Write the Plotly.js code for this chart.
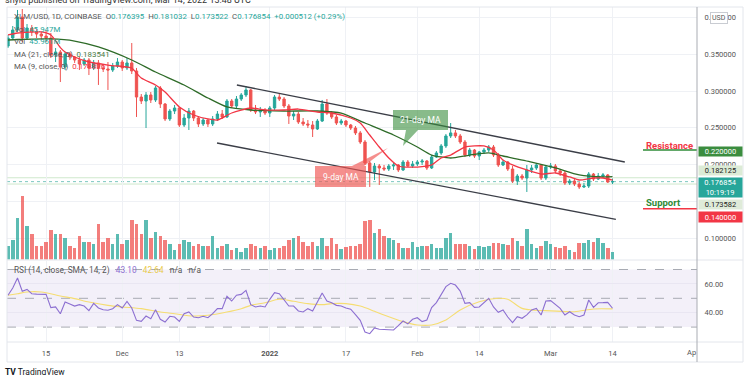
<!DOCTYPE html>
<html><head><meta charset="utf-8">
<script src="https://cdn.plot.ly/plotly-3.0.1.min.js"></script>
<style>html,body{margin:0;padding:0;background:#fff;}#chart{width:750px;height:375px;}</style>
</head><body><div id="chart"></div>
<script>
// ---------------- DATA ----------------
const startDate = '2021-11-07';
const opens = [0.3611,0.3720,0.3829,0.4005,0.3720,0.3856,0.3802,0.3774,0.3747,0.3720,
 0.3489,0.3530,0.3326,0.3503,0.3462,0.3421,0.3367,0.3421,0.3313,0.3381,
 0.3313,0.3299,0.3285,0.3340,0.3394,0.3313,0.3381,0.3272,0.2918,0.2864,
 0.2946,0.2878,0.3041,0.2823,0.2620,0.2728,0.2769,0.2538,0.2633,0.2728,
 0.2633,0.2552,0.2606,0.2552,0.2620,0.2687,0.2647,0.2864,0.2796,0.2891,
 0.2946,0.3014,0.2742,0.2715,0.2742,0.2701,0.2769,0.2918,0.2891,0.2796,
 0.2660,0.2687,0.2579,0.2552,0.2538,0.2484,0.2592,0.2823,0.2701,0.2647,
 0.2565,0.2592,0.2538,0.2497,0.2430,0.2307,0.2022,0.1899,0.1981,0.1954,
 0.1940,0.1981,0.1995,0.1927,0.2035,0.1981,0.2008,0.2035,0.2049,0.1954,
 0.2103,0.2158,0.2253,0.2389,0.2430,0.2389,0.2307,0.2131,0.2198,0.2117,
 0.2171,0.2198,0.2239,0.2131,0.1995,0.2035,0.1940,0.1777,0.1845,0.1818,
 0.1927,0.1954,0.1995,0.1818,0.1968,0.1981,0.1913,0.1886,0.1750,0.1777,
 0.1736,0.1696,0.1709,0.1872,0.1804,0.1845,0.1859,0.176395];
const highs = [0.3761,0.3883,0.4101,0.4114,0.3910,0.3897,0.3842,0.3815,0.3829,0.3788,
 0.3584,0.3557,0.3530,0.3530,0.3476,0.3462,0.3448,0.3448,0.3421,0.3421,
 0.3367,0.3394,0.3381,0.3448,0.3421,0.3448,0.3652,0.3313,0.2959,0.2986,
 0.2986,0.3068,0.3068,0.2837,0.2755,0.2810,0.2783,0.2687,0.2769,0.2742,
 0.2660,0.2633,0.2620,0.2660,0.2728,0.2742,0.2891,0.2891,0.2932,0.2973,
 0.3068,0.3027,0.2810,0.2783,0.2769,0.2796,0.2946,0.2973,0.2918,0.2823,
 0.2728,0.2715,0.2633,0.2606,0.2592,0.2620,0.2878,0.2891,0.2728,0.2674,
 0.2620,0.2606,0.2552,0.2524,0.2457,0.2334,0.2049,0.2022,0.2008,0.1995,
 0.2008,0.2035,0.2008,0.2062,0.2062,0.2049,0.2062,0.2076,0.2062,0.2131,
 0.2185,0.2280,0.2416,0.2565,0.2470,0.2416,0.2334,0.2226,0.2212,0.2185,
 0.2226,0.2266,0.2266,0.2158,0.2062,0.2049,0.1981,0.1872,0.1872,0.1995,
 0.1995,0.2022,0.2008,0.1995,0.2022,0.2008,0.1940,0.1913,0.1804,0.1804,
 0.1764,0.1750,0.1899,0.1886,0.1886,0.1886,0.1872,0.181032];
const lows = [0.3584,0.3693,0.3802,0.3666,0.3693,0.3747,0.3720,0.3693,0.3666,0.3448,
 0.3394,0.3122,0.3285,0.3421,0.3381,0.3285,0.3340,0.3217,0.3285,0.3082,
 0.3258,0.3014,0.3258,0.3313,0.3272,0.3285,0.3231,0.2647,0.2823,0.2497,
 0.2837,0.2851,0.2769,0.2592,0.2592,0.2687,0.2511,0.2511,0.2470,0.2592,
 0.2511,0.2524,0.2511,0.2524,0.2592,0.2620,0.2633,0.2769,0.2769,0.2864,
 0.2918,0.2715,0.2687,0.2647,0.2674,0.2647,0.2742,0.2864,0.2769,0.2552,
 0.2606,0.2552,0.2524,0.2497,0.2375,0.2470,0.2579,0.2674,0.2620,0.2538,
 0.2538,0.2511,0.2470,0.2402,0.2280,0.1995,0.1696,0.1791,0.1723,0.1913,
 0.1913,0.1927,0.1899,0.1913,0.1968,0.1954,0.1981,0.1995,0.1927,0.1940,
 0.2090,0.2131,0.2226,0.2361,0.2361,0.2280,0.2103,0.2103,0.2090,0.2062,
 0.2144,0.2171,0.2103,0.1968,0.1981,0.1913,0.1750,0.1723,0.1791,0.1628,
 0.1886,0.1927,0.1791,0.1791,0.1940,0.1886,0.1845,0.1723,0.1723,0.1709,
 0.1668,0.1682,0.1682,0.1777,0.1791,0.1818,0.1750,0.173522];
const closes = [0.3720,0.3829,0.4005,0.3720,0.3856,0.3802,0.3774,0.3747,0.3720,0.3489,
 0.3530,0.3326,0.3503,0.3462,0.3421,0.3367,0.3421,0.3313,0.3381,0.3313,
 0.3299,0.3285,0.3340,0.3394,0.3313,0.3381,0.3272,0.2918,0.2864,0.2946,
 0.2878,0.3041,0.2823,0.2620,0.2728,0.2769,0.2538,0.2633,0.2728,0.2633,
 0.2552,0.2606,0.2552,0.2620,0.2687,0.2647,0.2864,0.2796,0.2891,0.2946,
 0.3014,0.2742,0.2715,0.2742,0.2701,0.2769,0.2918,0.2891,0.2796,0.2660,
 0.2687,0.2579,0.2552,0.2538,0.2484,0.2592,0.2823,0.2701,0.2647,0.2565,
 0.2592,0.2538,0.2497,0.2430,0.2307,0.2022,0.1899,0.1981,0.1954,0.1940,
 0.1981,0.1995,0.1927,0.2035,0.1981,0.2008,0.2035,0.2049,0.1954,0.2103,
 0.2158,0.2253,0.2389,0.2430,0.2389,0.2307,0.2131,0.2198,0.2117,0.2171,
 0.2198,0.2239,0.2131,0.1995,0.2035,0.1940,0.1777,0.1845,0.1818,0.1927,
 0.1954,0.1995,0.1818,0.1968,0.1981,0.1913,0.1886,0.1750,0.1777,0.1736,
 0.1696,0.1709,0.1872,0.1804,0.1845,0.1859,0.176342,0.176854];
const volumesM = [85,130,267,410,215,169,91,85,117,195,163,169,137,85,72,150,117,117,104,228,
 117,137,98,163,104,124,254,234,169,254,137,182,150,124,98,65,104,130,117,85,
 98,85,91,150,78,85,104,65,78,52,72,104,85,78,91,65,72,78,85,130,
 137,150,111,85,117,91,137,85,143,104,70,80,91,85,102,249,260,174,200,156,
 141,128,106,73,73,117,80,86,91,99,73,76,141,171,102,102,99,89,70,85,
 80,86,110,106,102,96,141,119,86,200,98,72,89,119,102,80,73,91,59,50,
 110,106,124,117,137,106,73,46];
const rsi = [52.1,57.2,64.1,54.9,56.2,53.2,52.9,52.8,52.7,43.5,
 44.0,39.3,47.4,46.0,44.6,45.6,44.6,41.5,46.5,43.3,
 42.0,41.7,42.8,45.6,43.3,47.9,43.3,34.7,34.0,37.7,
 35.8,42.1,35.4,33.5,37.5,37.0,34.0,39.3,40.5,37.0,
 36.5,37.5,36.5,39.3,42.8,42.8,51.4,48.1,52.1,52.7,
 55.5,45.6,44.0,44.6,44.0,49.3,53.9,53.2,49.3,44.6,
 44.6,41.2,40.5,42.8,41.2,47.4,53.7,48.1,46.9,45.1,
 44.6,43.3,42.4,38.6,34.7,26.6,25.4,29.4,28.5,28.3,
 28.0,28.0,31.0,34.2,32.2,35.4,36.5,33.8,34.9,43.5,
 47.0,53.0,58.1,60.4,59.2,55.0,46.5,47.0,43.7,44.0,
 47.0,50.0,44.0,40.3,41.9,37.0,33.1,37.2,36.1,38.5,
 41.9,43.0,38.4,48.1,48.4,45.8,43.0,38.4,40.7,38.4,
 37.2,38.4,48.8,43.7,46.9,47.0,47.2,43.1];
const rsiMaDates = ['2021-11-07','2021-11-09','2021-11-11','2021-11-14','2021-11-18','2021-11-21','2021-11-24','2021-11-28','2021-12-01','2021-12-05','2021-12-09','2021-12-12','2021-12-16','2021-12-19','2021-12-23','2021-12-26','2021-12-28','2021-12-31','2022-01-03','2022-01-06','2022-01-09','2022-01-12','2022-01-14','2022-01-17','2022-01-20','2022-01-23','2022-01-25','2022-01-29','2022-02-01','2022-02-04','2022-02-07','2022-02-10','2022-02-14','2022-02-18','2022-02-20','2022-02-23','2022-02-25','2022-03-01','2022-03-06','2022-03-10','2022-03-14'];
const rsiMaValues = [52.1,53.2,54.4,54.4,51.6,49.8,47.4,45.1,44.0,42.8,40.5,39.3,37.7,38.2,40.5,42.8,45.1,46.9,49.3,47.9,46.3,45.6,46.3,46.3,44.6,41.0,38.4,33.8,31.5,31.5,34.9,41.9,47.6,50.0,49.3,43.0,41.9,41.3,40.7,42.6,42.64];
const ma21Dates = ['2021-11-07','2021-11-09','2021-11-16','2021-11-21','2021-11-26','2021-12-03','2021-12-08','2021-12-14','2021-12-19','2021-12-23','2021-12-28','2022-01-04','2022-01-11','2022-01-16','2022-01-21','2022-01-27','2022-02-01','2022-02-04','2022-02-08','2022-02-12','2022-02-16','2022-02-19','2022-02-25','2022-03-02','2022-03-07','2022-03-12','2022-03-14'];
const ma21Values = [0.3693,0.3700,0.3707,0.3679,0.3598,0.3421,0.3258,0.3082,0.2905,0.2783,0.2742,0.2728,0.2728,0.2701,0.2565,0.2402,0.2239,0.2130,0.2090,0.2130,0.2158,0.2117,0.2035,0.1954,0.1859,0.1832,0.183541];
const ma9Dates = ['2021-11-07','2021-11-09','2021-11-14','2021-11-16','2021-11-18','2021-11-19','2021-11-21','2021-11-24','2021-11-28','2021-12-02','2021-12-03','2021-12-05','2021-12-08','2021-12-10','2021-12-13','2021-12-16','2021-12-19','2021-12-21','2021-12-24','2021-12-28','2021-12-31','2022-01-04','2022-01-07','2022-01-11','2022-01-14','2022-01-18','2022-01-20','2022-01-22','2022-01-24','2022-01-26','2022-01-28','2022-02-01','2022-02-04','2022-02-06','2022-02-08','2022-02-11','2022-02-15','2022-02-17','2022-02-19','2022-02-21','2022-02-24','2022-02-27','2022-03-02','2022-03-05','2022-03-07','2022-03-10','2022-03-12','2022-03-14'];
const ma9Values = [0.3761,0.3788,0.3802,0.3761,0.3590,0.3530,0.3462,0.3394,0.3353,0.3326,0.3312,0.3177,0.3082,0.2986,0.2783,0.2674,0.2620,0.2606,0.2701,0.2769,0.2742,0.2742,0.2755,0.2715,0.2701,0.2633,0.2565,0.2402,0.2239,0.2090,0.1981,0.1967,0.1995,0.2090,0.2130,0.2239,0.2253,0.2198,0.2062,0.1995,0.1927,0.1872,0.1886,0.1832,0.1791,0.1818,0.1818,0.1788];
const trendUpperDates = ['2021-12-25 02:00','2022-03-16 14:00'];
const trendUpperPrices = [0.3082,0.2035];
const trendLowerDates = ['2021-12-20 22:00','2022-03-14 17:00'];
const trendLowerPrices = [0.2293,0.1255];
const resistanceLevel = 0.22, supportLevel = 0.14;
const lastClose = 0.176854, markA = 0.182125, markB = 0.173582;
const tickDates = ['2021-11-15','2021-12-01','2021-12-13','2022-01-01','2022-01-17','2022-02-01','2022-02-14','2022-03-01','2022-03-14'];
const tickTexts = ['15','Dec','13','<b>2022</b>','17','Feb','14','Mar','14'];
const priceTicks = [0.10,0.15,0.20,0.25,0.30,0.35,0.40];
const priceTickTexts = ['0.100000','','0.200000','0.250000','0.300000','0.350000','0.400000'];

// ---------------- BUILD ----------------
const dates = [];
for (let i = 0; i < closes.length; i++) {
  const d = new Date(Date.UTC(2021, 10, 7 + i));
  dates.push(d.toISOString().slice(0, 10));
}
const UP = '#26a69a', DN = '#ef5350';
const volColors = closes.map((c, i) => c >= opens[i] ? 'rgba(38,166,154,0.75)' : 'rgba(239,83,80,0.75)');

const W = 750, H = 375, ML = 7, MR = 53, MT = 7, MB = 33;
const PW = W - ML - MR, PH = H - MT - MB;
const px = x => (x - ML) / PW;
const py = y => (H - MB - y) / PH;
const FONT = 'Roboto, "Liberation Sans", Arial, sans-serif';

const traces = [
  {type:'bar', x:dates, y:volumesM, xaxis:'x', yaxis:'y', marker:{color:volColors, line:{width:0}}, width:0.74*86400000, hoverinfo:'skip'},
  {type:'scatter', mode:'lines', x:trendUpperDates, y:trendUpperPrices, xaxis:'x', yaxis:'y2', line:{color:'#3b3e47', width:1.4}, hoverinfo:'skip'},
  {type:'scatter', mode:'lines', x:trendLowerDates, y:trendLowerPrices, xaxis:'x', yaxis:'y2', line:{color:'#3b3e47', width:1.4}, hoverinfo:'skip'},
  {type:'scatter', mode:'lines', x:ma21Dates, y:ma21Values, xaxis:'x', yaxis:'y2', line:{color:'#2e6b28', width:1.3, shape:'spline', smoothing:0.6}, hoverinfo:'skip'},
  {type:'candlestick', x:dates, open:opens, high:highs, low:lows, close:closes, xaxis:'x', yaxis:'y2',
   increasing:{line:{color:UP, width:1}, fillcolor:UP}, decreasing:{line:{color:DN, width:1}, fillcolor:DN},
   whiskerwidth:0, hoverinfo:'skip'},
  {type:'scatter', mode:'lines', x:ma9Dates, y:ma9Values, xaxis:'x', yaxis:'y2', line:{color:'#f23645', width:1.3, shape:'spline', smoothing:0.6}, hoverinfo:'skip'},
  {type:'scatter', mode:'lines', x:rsiMaDates, y:rsiMaValues, xaxis:'x', yaxis:'y3', line:{color:'#f5dd72', width:1.1, shape:'spline', smoothing:0.8}, hoverinfo:'skip'},
  {type:'scatter', mode:'lines', x:dates, y:rsi, xaxis:'x', yaxis:'y3', line:{color:'#8c6fd1', width:1.1}, hoverinfo:'skip'}
];

function txt(x, y, text, size, color, extra) {
  return Object.assign({xref:'paper', yref:'paper', x:px(x), y:py(y), text:text, showarrow:false,
    xanchor:'left', yanchor:'middle', font:{family:FONT, size:size, color:color}}, extra || {});
}
function hline(x0, x1, y, color, w, dash) {
  return {type:'line', xref:'paper', yref:'paper', x0:px(x0), x1:px(x1), y0:py(y), y1:py(y), line:{color:color, width:w, dash:dash||'solid'}};
}
function vline(x, y0, y1, color, w) {
  return {type:'line', xref:'paper', yref:'paper', x0:px(x), x1:px(x), y0:py(y0), y1:py(y1), line:{color:color, width:w}};
}
function pathOf(pts) {
  return pts.map((p, i) => (i ? 'L ' : 'M ') + px(p[0]).toFixed(5) + ' ' + py(p[1]).toFixed(5)).join(' ') + ' Z';
}

const annotations = [
  txt(3, 0.5, 'shyid published on TradingView.com, Mar 14, 2022 13:48 UTC', 9, '#333'),
  txt(12, 17, 'XLM/USD, 1D, COINBASE  O<span style="color:#26a69a">0.176395</span>  H<span style="color:#26a69a">0.181032</span>  L<span style="color:#26a69a">0.173522</span>  C<span style="color:#26a69a">0.176854  +0.000512 (+0.29%)</span>', 7.9, '#555'),
  txt(12, 29.5, 'Vol  <span style="color:#26a69a">45.947M</span>', 7.9, '#555'),
  txt(12, 42, 'Vol  <span style="color:#26a69a">45.961M</span>', 7.9, '#555'),
  txt(12, 54, 'MA (21, close, 0)  <span style="color:#4b7a44">0.183541</span>', 7.9, '#555'),
  txt(12, 66, 'MA (9, close, 0)  <span style="color:#f23645">0.178826</span>', 7.9, '#555'),
  txt(12, 270.5, 'RSI (14, close, SMA, 14, 2)   <span style="color:#8c6fd1">43.10</span>   <span style="color:#e8c94a">42.64</span>   n/a   n/a', 8.3, '#555'),
  txt(420.5, 120, '21-day MA', 8.5, '#fff', {xanchor:'center'}),
  txt(340.5, 176.5, '9-day MA', 8.5, '#fff', {xanchor:'center'}),
  txt(644, 145, '<b>Resistance</b>', 9.5, '#f23645'),
  txt(644, 202, '<b>Support</b>', 9.5, '#2e8b37'),
  txt(698, 151, '0.220000', 7.5, '#fff', {bgcolor:'#3b8d3f', width:43, height:9, borderpad:0, align:'center'}),
  txt(698, 171, '0.182125', 7.5, '#222', {bgcolor:'#dcebd6', width:43, height:9, borderpad:0, align:'center'}),
  txt(698, 187, '0.176854<br>10:19:19', 7.5, '#fff', {bgcolor:'#26a69a', width:43, height:19, borderpad:0, align:'center'}),
  txt(698, 204, '0.173582', 7.5, '#222', {bgcolor:'#dfebd9', width:43, height:9, borderpad:0, align:'center'}),
  txt(698, 217, '0.140000', 7.5, '#fff', {bgcolor:'#f23645', width:43, height:10, borderpad:0, align:'center'}),
  txt(710, 17.5, 'USD', 7, '#555', {bgcolor:'#fff', bordercolor:'#c9ccd2', borderwidth:1, borderpad:1}),
  txt(698, 352, 'Ap', 7.5, '#555', {xanchor:'right'}),
  txt(3, 371.5, '<b>TV</b> TradingView', 8.5, '#131722')
];

const shapes = [
  {type:'rect', xref:'paper', yref:'y3', x0:0, x1:1, y0:30, y1:70, fillcolor:'rgba(126,87,194,0.09)', line:{width:0}, layer:'below'},
  {type:'line', xref:'paper', yref:'y3', x0:0, x1:1, y0:70, y1:70, line:{color:'#a8abb3', width:1, dash:'dash'}, layer:'below'},
  {type:'line', xref:'paper', yref:'y3', x0:0, x1:1, y0:50, y1:50, line:{color:'#a8abb3', width:1, dash:'dash'}, layer:'below'},
  {type:'line', xref:'paper', yref:'y3', x0:0, x1:1, y0:30, y1:30, line:{color:'#a8abb3', width:1, dash:'dash'}, layer:'below'},
  {type:'line', xref:'paper', yref:'y2', x0:0, x1:1, y0:markA, y1:markA, line:{color:'#cfe8cc', width:1}, layer:'below'},
  {type:'line', xref:'paper', yref:'y2', x0:0, x1:1, y0:markB, y1:markB, line:{color:'#cfe8cc', width:1}, layer:'below'},
  {type:'line', xref:'paper', yref:'y2', x0:0, x1:1, y0:lastClose, y1:lastClose, line:{color:'#7cc7bf', width:1, dash:'dot'}, layer:'below'},
  {type:'line', xref:'paper', yref:'y2', x0:px(643), x1:1, y0:resistanceLevel, y1:resistanceLevel, line:{color:'#2e8b37', width:1.5}},
  {type:'line', xref:'paper', yref:'y2', x0:px(643), x1:1, y0:supportLevel, y1:supportLevel, line:{color:'#f23645', width:1.5}},
  {type:'path', xref:'paper', yref:'paper', path:pathOf([[393,110],[448,110],[448,130],[418,130],[403,146],[406,130],[393,130]]), fillcolor:'rgba(56,142,60,0.6)', line:{width:0}},
  {type:'path', xref:'paper', yref:'paper', path:pathOf([[315,166],[352,166],[388,148],[364,166],[366,166],[366,187],[315,187]]), fillcolor:'rgba(239,83,80,0.65)', line:{width:0}},
  hline(7, 743, 7, '#e3e6ec', 1),
  hline(7, 743, 260, '#e3e6ec', 1),
  hline(7, 743, 342, '#e3e6ec', 1),
  hline(7, 743, 362, '#e3e6ec', 1),
  vline(7, 7, 362, '#e3e6ec', 1),
  vline(743, 7, 362, '#e3e6ec', 1),
  vline(697, 7, 362, '#a9acb3', 1)
];

const layout = {
  width: W, height: H, margin:{l:ML, r:MR, t:MT, b:MB, pad:0},
  paper_bgcolor:'#fff', plot_bgcolor:'#fff', showlegend:false,
  font:{family:FONT, size:7.5, color:'#555'},
  bargap:0,
  xaxis:{type:'date', range:['2021-11-06 19:00','2022-03-31 18:00'], anchor:'y3', domain:[0,1],
    tickvals:tickDates, ticktext:tickTexts, tickfont:{family:FONT, size:7.5, color:'#555'},
    ticks:'outside', ticklen:4, tickcolor:'rgba(0,0,0,0)', showgrid:true, gridcolor:'#eff1f5', gridwidth:1,
    zeroline:false, showline:false, rangeslider:{visible:false}, fixedrange:true},
  yaxis:{domain:[py(259.5),1], range:[0, 252.5*6.5], visible:false, showgrid:false, zeroline:false, fixedrange:true},
  yaxis2:{overlaying:'y', side:'right', anchor:'x', range:[0.07106,0.41413], tickvals:priceTicks, ticktext:priceTickTexts,
    tickfont:{family:FONT, size:7.5, color:'#555'}, ticks:'outside', ticklen:5, tickcolor:'rgba(0,0,0,0)',
    showgrid:true, gridcolor:'#eff1f5', zeroline:false, showline:false, fixedrange:true},
  yaxis3:{domain:[0,py(260.5)], side:'right', anchor:'x', range:[19.65,76.25], tickvals:[40,60], tickformat:'.2f',
    tickfont:{family:FONT, size:7.5, color:'#555'}, ticks:'outside', ticklen:5, tickcolor:'rgba(0,0,0,0)',
    showgrid:true, gridcolor:'#e9e6f2', zeroline:false, showline:false, fixedrange:true},
  annotations: annotations,
  shapes: shapes
};

Plotly.newPlot('chart', traces, layout, {displayModeBar:false, staticPlot:true});
</script>
</body></html>
